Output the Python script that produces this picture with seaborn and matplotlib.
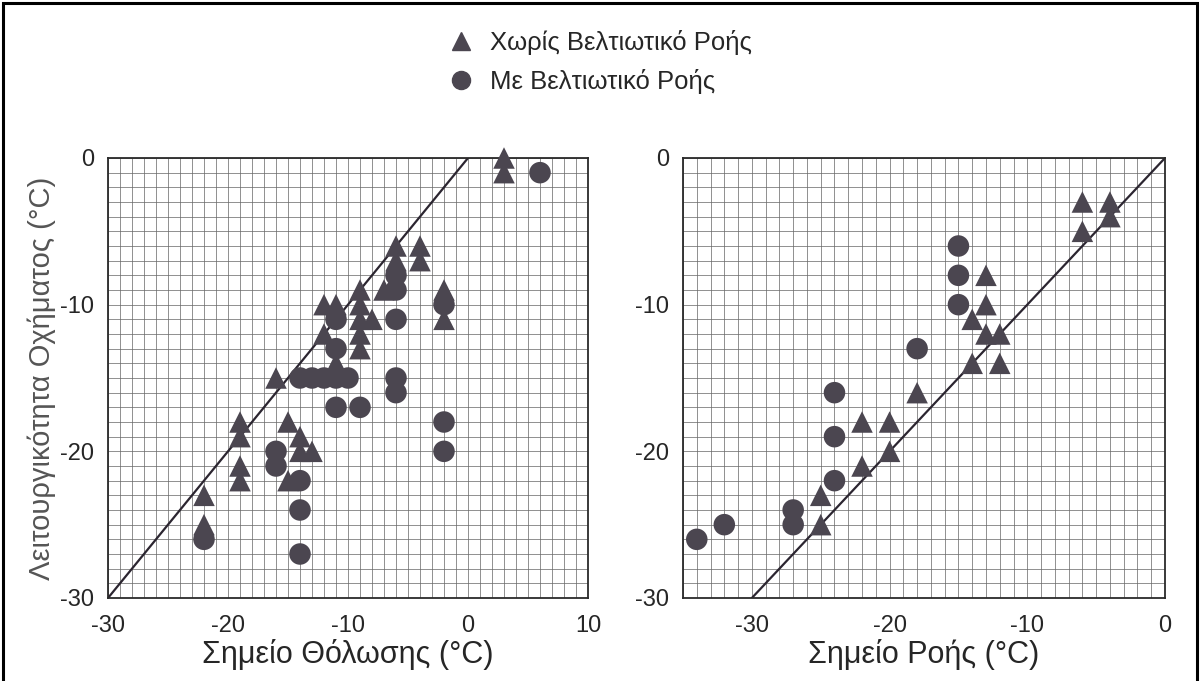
import matplotlib
matplotlib.use("Agg")
import matplotlib.pyplot as plt
from matplotlib.ticker import MultipleLocator, FixedLocator
from matplotlib.lines import Line2D
from matplotlib.patches import Rectangle
import seaborn as sns
import pandas as pd

# ---------------- data ----------------
series_names = ["Χωρίς Βελτιωτικό Ροής", "Με Βελτιωτικό Ροής"]

# Left panel: cloud point (x) vs vehicle operability (y)
cloud_no_x = [3, 3, -6, -6, -4, -4, -7, -2, -2, -12, -11, -9, -9, -9, -8, -9, -9, -12,
              -16, -11, -19, -19, -15, -14, -14, -13, -19, -19, -15, -22, -22]
cloud_no_y = [0, -1, -6, -7, -6, -7, -9, -9, -11, -10, -10, -9, -10, -11, -11, -12, -13, -12,
              -15, -14, -18, -19, -18, -19, -20, -20, -21, -22, -22, -23, -25]
cloud_with_x = [6, -6, -6, -6, -2, -11, -11, -14, -13, -12, -11, -10, -6, -6, -11, -9,
                -2, -2, -16, -16, -14, -14, -14, -22]
cloud_with_y = [-1, -8, -9, -11, -10, -11, -13, -15, -15, -15, -15, -15, -15, -16, -17, -17,
                -18, -20, -20, -21, -22, -24, -27, -26]

# Right panel: pour point (x) vs vehicle operability (y)
pour_no_x = [-6, -4, -4, -6, -13, -13, -14, -13, -12, -14, -12, -18, -22, -20, -20, -22, -25, -25]
pour_no_y = [-3, -3, -4, -5, -8, -10, -11, -12, -12, -14, -14, -16, -18, -18, -20, -21, -23, -25]
pour_with_x = [-15, -15, -15, -18, -24, -24, -24, -27, -27, -32, -34]
pour_with_y = [-6, -8, -10, -13, -16, -19, -22, -24, -25, -25, -26]

# identity reference lines
left_line_x = [-30, 0]
left_line_y = [-30, 0]
right_line_x = [-30, 0]
right_line_y = [-30, 0]

left_xticks = [-30, -20, -10, 0, 10]
right_xticks = [-30, -20, -10, 0]
yticks = [-30, -20, -10, 0]

xlabel_left = "Σημείο Θόλωσης (°C)"
xlabel_right = "Σημείο Ροής (°C)"
ylabel = "Λειτουργικότητα Οχήματος (°C)"

# ---------------- frames ----------------
def frame(xs_no, ys_no, xs_with, ys_with):
    d1 = pd.DataFrame({"x": xs_no, "y": ys_no, "s": series_names[0]})
    d2 = pd.DataFrame({"x": xs_with, "y": ys_with, "s": series_names[1]})
    return pd.concat([d2, d1], ignore_index=True)

df_left = frame(cloud_no_x, cloud_no_y, cloud_with_x, cloud_with_y)
df_right = frame(pour_no_x, pour_no_y, pour_with_x, pour_with_y)

# ---------------- style ----------------
sns.set_style("white")
plt.rcParams["font.family"] = ["Liberation Sans", "DejaVu Sans"]
plt.rcParams["axes.unicode_minus"] = False

W, H = 1202, 681
fig = plt.figure(figsize=(W / 100, H / 100), dpi=100)
fig.patch.set_facecolor("white")

mark_col = "#4b4650"
txt_col = "#262626"
grid_col = "#6a6a6a"
markers = {series_names[0]: "^", series_names[1]: "o"}

ax_l = fig.add_axes([108 / W, 1 - 598 / H, 480 / W, 440 / H])
ax_r = fig.add_axes([683 / W, 1 - 598 / H, 482 / W, 440 / H])

def setup(ax, df, xlim, xticks, line_x, line_y, xlabel):
    ax.set_xlim(*xlim)
    ax.set_ylim(-30, 0)
    ax.xaxis.set_major_locator(FixedLocator(xticks))
    ax.yaxis.set_major_locator(FixedLocator(yticks))
    ax.xaxis.set_minor_locator(MultipleLocator(1))
    ax.yaxis.set_minor_locator(MultipleLocator(1))
    ax.grid(True, which="both", color=grid_col, linewidth=0.7, alpha=0.75)
    ax.set_axisbelow(True)
    ax.plot(line_x, line_y, color="#2b2530", linewidth=1.6, zorder=2)
    sns.scatterplot(data=df, x="x", y="y", style="s", markers=markers,
                    color=mark_col, s=240, edgecolor="none", linewidth=0,
                    legend=False, ax=ax, zorder=3, clip_on=False)
    for sp in ax.spines.values():
        sp.set_visible(True)
        sp.set_color("#2a2a2a")
        sp.set_linewidth(1.3)
    ax.tick_params(axis="x", which="major", length=0, labelsize=17,
                   labelcolor=txt_col, pad=12)
    ax.tick_params(axis="y", which="major", length=0, labelsize=17,
                   labelcolor=txt_col, pad=10)
    ax.tick_params(axis="both", which="minor", length=0)
    ax.set_xlabel(xlabel, fontsize=22, color=txt_col, labelpad=2)
    ax.set_ylabel("")

setup(ax_l, df_left, (-30, 10), left_xticks, left_line_x, left_line_y, xlabel_left)
setup(ax_r, df_right, (-35, 0), right_xticks, right_line_x, right_line_y, xlabel_right)
ax_l.set_ylabel(ylabel, fontsize=21, color="#555555", labelpad=3)

# legend
handles = [
    Line2D([], [], linestyle="none", marker="^", color=mark_col, markersize=13),
    Line2D([], [], linestyle="none", marker="o", color=mark_col, markersize=13),
]
fig.legend(handles, series_names, loc="upper left",
           bbox_to_anchor=(430 / W, 1 - 20 / H), frameon=False, fontsize=18.5,
           labelspacing=0.55, handletextpad=0.35, handlelength=1.6,
           labelcolor=txt_col, borderaxespad=0)

# outer frame of the picture
fig.patches.append(Rectangle((3 / W, -0.02), (W - 8) / W, 1 - 3 / H + 0.02,
                             transform=fig.transFigure, fill=False,
                             edgecolor="black", linewidth=2.2))

fig.savefig("out.png", dpi=100, facecolor="white")
